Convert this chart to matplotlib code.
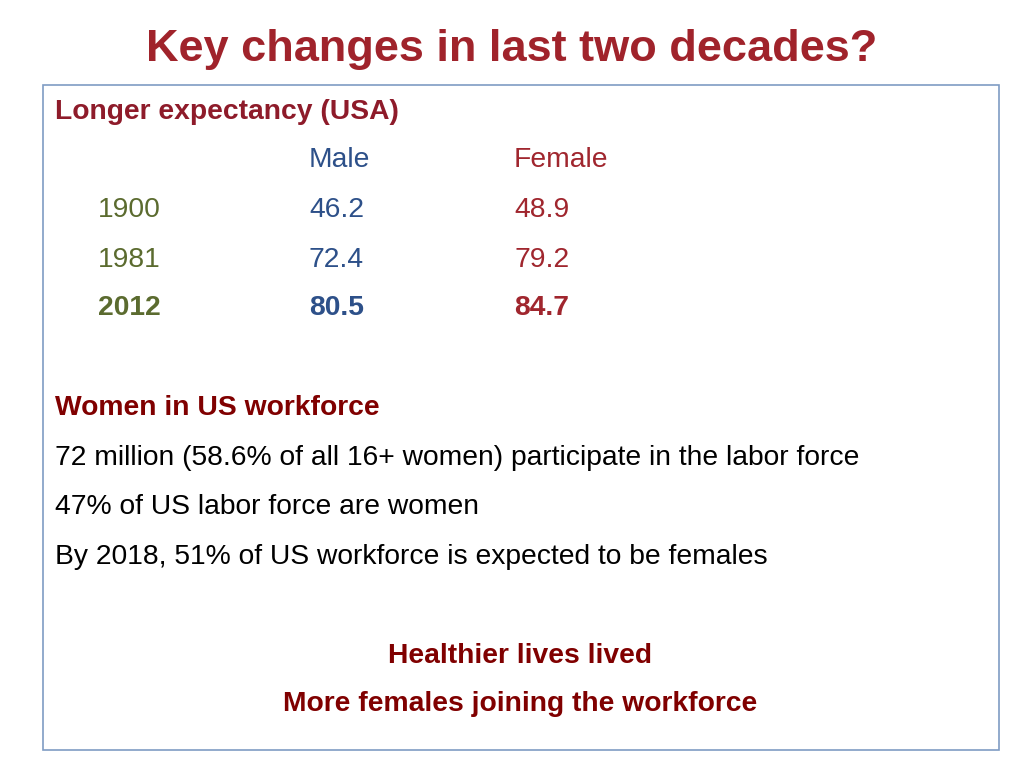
import matplotlib.pyplot as plt
from matplotlib.patches import Rectangle

title = "Key changes in last two decades?"
years = ["1900", "1981", "2012"]
male = ["46.2", "72.4", "80.5"]
female = ["48.9", "79.2", "84.7"]
workforce = [
    "72 million (58.6% of all 16+ women) participate in the labor force",
    "47% of US labor force are women",
    "By 2018, 51% of US workforce is expected to be females",
]
summary = ["Healthier lives lived", "More females joining the workforce"]

plt.rcParams['font.family'] = ['Liberation Sans', 'DejaVu Sans']

fig = plt.figure(figsize=(10.24, 7.68), dpi=100)
ax = fig.add_axes([0, 0, 1, 1])
ax.set_xlim(0, 1024)
ax.set_ylim(768, 0)
ax.axis('off')

red_title = '#A0232B'
red_head = '#8E1B2A'
blue = '#2D5089'
red = '#A0262E'
olive = '#5B6B2F'
dark_red = '#800000'

ax.add_patch(Rectangle((43, 85), 956, 665, fill=False, edgecolor='#7F9CC4', lw=1.2))

ax.text(512, 50, title, fontsize=32.5, fontweight='bold', color=red_title, ha='center', va='center')

fs = 20.3
ax.text(55, 112, "Longer expectancy (USA)", fontsize=fs, fontweight='bold', color=red_head, va='center')
ax.text(309, 160, "Male", fontsize=fs, color=blue, va='center')
ax.text(514, 160, "Female", fontsize=fs, color=red, va='center')

row_y = [210, 260, 308]
for i, y in enumerate(row_y):
    w = 'bold' if i == len(years) - 1 else 'normal'
    ax.text(98, y, years[i], fontsize=fs, color=olive, fontweight=w, va='center')
    ax.text(309, y, male[i], fontsize=fs, color=blue, fontweight=w, va='center')
    ax.text(514, y, female[i], fontsize=fs, color=red, fontweight=w, va='center')

ax.text(55, 408, "Women in US workforce", fontsize=fs, fontweight='bold', color=dark_red, va='center')
for i, line in enumerate(workforce):
    ax.text(55, 458 + i * 49.5, line, fontsize=fs, color='black', va='center')

for i, line in enumerate(summary):
    ax.text(520, 656 + i * 48, line, fontsize=fs, fontweight='bold', color=dark_red, ha='center', va='center')

fig.savefig('out.png', dpi=100)
